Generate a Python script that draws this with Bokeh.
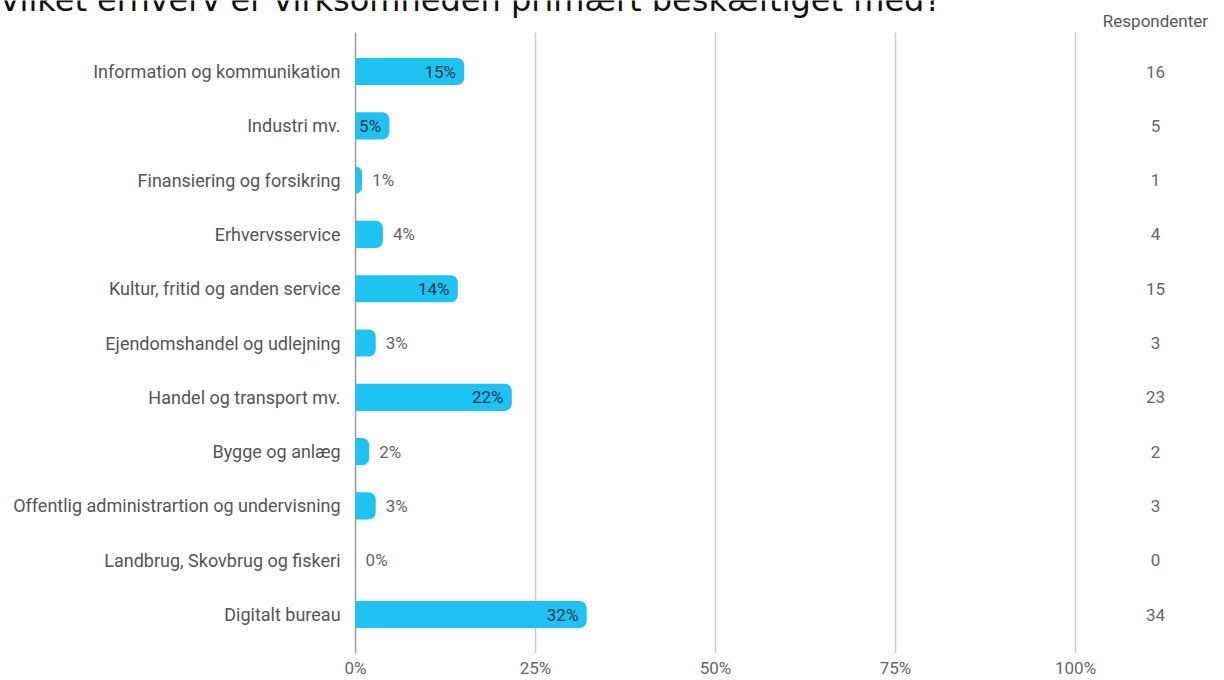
from bokeh.plotting import figure
from bokeh.models import Range1d, ColumnDataSource
from bokeh.core.properties import value
from bokeh.embed import file_html
from bokeh.resources import INLINE

title_text = "Hvilket erhverv er virksomheden primært beskæftiget med?"
categories = [
    "Information og kommunikation",
    "Industri mv.",
    "Finansiering og forsikring",
    "Erhvervsservice",
    "Kultur, fritid og anden service",
    "Ejendomshandel og udlejning",
    "Handel og transport mv.",
    "Bygge og anlæg",
    "Offentlig administrartion og undervisning",
    "Landbrug, Skovbrug og fiskeri",
    "Digitalt bureau",
]
shares = [15.1, 4.7, 0.9, 3.8, 14.2, 2.8, 21.7, 1.9, 2.8, 0.0, 32.1]
respondents = [16, 5, 1, 4, 15, 3, 23, 2, 3, 0, 34]
x_ticks = [0, 25, 50, 75, 100]
x_tick_labels = ["0%", "25%", "50%", "75%", "100%"]
count_header = "Respondenter"

FONT = "Roboto"
BAR = "#1fc3f2"

rows = list(range(len(categories)))
p = figure(width=1224, height=680, output_backend="svg", toolbar_location=None,
           x_axis_location=None, y_axis_location=None,
           x_range=Range1d(-49.31, 120.69), y_range=Range1d(11.215, -1.3076),
           min_border=0)
p.outline_line_color = None
p.xgrid.visible = False
p.ygrid.visible = False
p.background_fill_color = "white"

# grid lines
grid_colors = ["#9a9a9a" if t == 0 else "#cdcdcd" for t in x_ticks]
p.segment(x0=x_ticks, x1=x_ticks, y0=[-0.718] * len(x_ticks), y1=[10.718] * len(x_ticks),
          line_color=grid_colors, line_width=1.5)

# bars
src = ColumnDataSource(dict(y=rows, right=shares))
p.hbar(y="y", left=0, right="right", height=0.5, source=src,
       fill_color=BAR, line_color=None, border_radius=(0, 7, 7, 0))

# bar labels
in_x, in_y, in_t, out_x, out_y, out_t = [], [], [], [], [], []
for i, v in enumerate(shares):
    lab = f"{round(v)}%"
    if v >= 4.5:
        in_x.append(v - 1.15); in_y.append(i); in_t.append(lab)
    else:
        out_x.append(v + 1.4); out_y.append(i); out_t.append(lab)
p.text(x=in_x, y=in_y, text=in_t, text_align="right", text_baseline="middle",
       text_font=value(FONT), text_font_size="17px", text_color="#1e3550")
p.text(x=out_x, y=out_y, text=out_t, text_align="left", text_baseline="middle",
       text_font=value(FONT), text_font_size="17px", text_color="#666666")

# category labels
p.text(x=[-2.08] * len(categories), y=rows, text=categories, text_align="right",
       text_baseline="middle", text_font=value(FONT), text_font_size="18px",
       text_color="#555555")

# respondent counts
p.text(x=[111.1] * len(respondents), y=rows, text=[str(c) for c in respondents],
       text_align="center", text_baseline="middle", text_font=value(FONT),
       text_font_size="17px", text_color="#666666")
p.text(x=[111.1], y=[-0.939], text=[count_header], text_align="center",
       text_baseline="middle", text_font=value(FONT), text_font_size="17px",
       text_color="#555555")

# x tick labels
p.text(x=x_ticks, y=[10.99] * len(x_ticks), text=x_tick_labels, text_align="center",
       text_baseline="middle", text_font=value(FONT), text_font_size="17px",
       text_color="#666666")

# title (cut at the top and left edge like the reference)
p.text(x=[-52.64], y=[-1.323], text=[title_text], text_align="left",
       text_baseline="alphabetic", text_font=value("DejaVu Sans"),
       text_font_size="32px", text_color="#111111")

open("out.html", "w").write(file_html(p, INLINE))
